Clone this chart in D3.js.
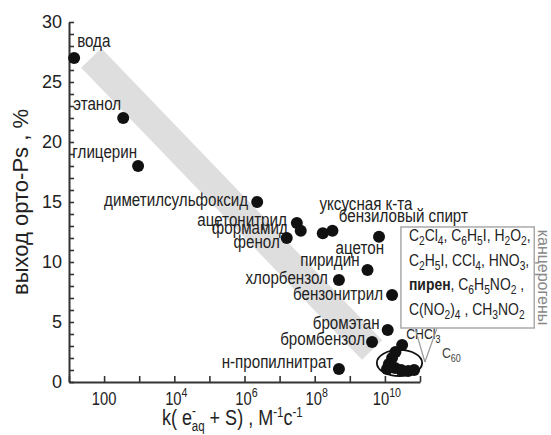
<!DOCTYPE html>
<html>
<head>
<meta charset="utf-8">
<script src="https://cdn.jsdelivr.net/npm/d3@7/dist/d3.min.js"></script>
<style>
  body { margin: 0; background: #fff; }
  svg { display: block; }
</style>
</head>
<body>
<svg id="chart" width="551" height="435"></svg>
<script>
// --- data ---
const solvents = [
  'вода', 'этанол', 'глицерин', 'диметилсульфоксид', 'ацетонитрил', 'формамид',
  'фенол', 'бензиловый спирт', 'уксусная к-та', 'ацетон', 'пиридин', 'хлорбензол',
  'бензонитрил', 'бромэтан', 'бромбензол', 'н-пропилнитрат', 'CHCl3'
];
const rateConst = [
  1.4e1, 3.5e2, 9.3e2, 2.3e6, 3.1e7, 4.0e7,
  1.6e7, 1.7e8, 3.2e8, 6.8e9, 3.2e9, 4.9e8,
  1.6e10, 1.2e10, 4.3e9, 4.9e8, 3.1e10
];
const psYield = [
  27.0, 22.0, 18.0, 15.0, 13.25, 12.6,
  12.0, 12.4, 12.6, 12.1, 9.33, 8.5,
  7.25, 4.33, 3.33, 1.08, 3.08
];

// carcinogen cluster inside the ellipse
const clusterRate = [2.0e10, 1.6e10, 1.3e10, 1.15e10, 1.95e10, 2.9e10, 4.6e10, 6.8e10];
const clusterYield = [2.5, 2.0, 1.5, 1.08, 1.17, 1.0, 0.92, 1.0];

const xTickValues = [1e1, 1e2, 1e3, 1e4, 1e5, 1e6, 1e7, 1e8, 1e9, 1e10, 1e11];
const xTickLabels = [[1e2, '100', ''], [1e4, '10', '4'], [1e6, '10', '6'], [1e8, '10', '8'], [1e10, '10', '10']];
const yTickValues = d3.range(0, 31, 1);

// trend band and annotations (data coordinates)
const bandEnds = [[4.3e1, 27.0], [4.3e9, 2.67]];
const ellipseBox = [[5.9e9, 0.5], [1.15e11, 2.67]];
const calloutBox = [[2.86e10, 12.92], [1.8e14, 4.5]];
const calloutTip = [1.38e11, 1.67];
const calloutBase = [[7.2e10, 4.5], [3.06e11, 4.5]];

const boxLines = [
  [['C', ''], ['2', 's'], ['Cl', ''], ['4', 's'], [', C', ''], ['6', 's'], ['H', ''], ['5', 's'], ['I, H', ''], ['2', 's'], ['O', ''], ['2', 's'], [',', '']],
  [['C', ''], ['2', 's'], ['H', ''], ['5', 's'], ['I, CCl', ''], ['4', 's'], [', HNO', ''], ['3', 's'], [',', '']],
  [['пирен', 'b'], [', C', ''], ['6', 's'], ['H', ''], ['5', 's'], ['NO', ''], ['2', 's'], [' ,', '']],
  [['C(NO', ''], ['2', 's'], [')', ''], ['4', 's'], [' , CH', ''], ['3', 's'], ['NO', ''], ['2', 's']]
];

// label placement relative to each point: [dx, dy, anchor]
const labelLayout = {
  'вода': [3, -11, 'start'],
  'этанол': [-2, -8, 'end'],
  'глицерин': [-1, -8, 'end'],
  'диметилсульфоксид': [-9, 4, 'end'],
  'ацетонитрил': [-10, 3, 'end'],
  'формамид': [-13, 3, 'end'],
  'фенол': [-7, 10, 'end'],
  'бензиловый спирт': [16, -11, 'start'],
  'уксусная к-та': [-13, -21, 'start'],
  'ацетон': [5, 17, 'end'],
  'пиридин': [-8, -4, 'end'],
  'хлорбензол': [-11, 4, 'end'],
  'бензонитрил': [-9, 5, 'end'],
  'бромэтан': [-8, -1, 'end'],
  'бромбензол': [-7, 3, 'end'],
  'н-пропилнитрат': [-6, -1, 'end'],
  'CHCl3': [4, -6, 'start']
};

const SANS = "'Liberation Sans', Arial, sans-serif";
const INK = '#222';
const SQUEEZE = 0.82; // the figure uses a condensed face

const plot = { left: 69, right: 420, top: 22, bottom: 382 };

const svg = d3.select('#chart');

const x = d3.scaleLog().domain([1e1, 1e11]).range([plot.left, plot.right]);
const y = d3.scaleLinear().domain([0, 30]).range([plot.bottom, plot.top]);

// condensed text helper
function narrowText(parent, px, py, size, anchor) {
  return parent.append('text')
    .attr('transform', `translate(${px},${py}) scale(${SQUEEZE},1)`)
    .attr('text-anchor', anchor || 'start')
    .style('font-family', SANS)
    .style('font-size', `${size}px`)
    .attr('fill', INK);
}

// grey trend band
svg.append('line')
  .attr('x1', x(bandEnds[0][0])).attr('y1', y(bandEnds[0][1]))
  .attr('x2', x(bandEnds[1][0])).attr('y2', y(bandEnds[1][1]))
  .attr('stroke', '#dedede')
  .attr('stroke-width', 28)
  .attr('stroke-linecap', 'butt');

// axes
const xAxis = d3.axisBottom(x)
  .tickValues(xTickValues)
  .tickSizeInner(-6)
  .tickSizeOuter(0)
  .tickFormat(() => '');

const yAxis = d3.axisLeft(y)
  .tickValues(yTickValues)
  .tickSizeInner(-5)
  .tickSizeOuter(0)
  .tickPadding(7)
  .tickFormat((d) => (d % 5 === 0 ? d : ''));

const gx = svg.append('g')
  .attr('transform', `translate(0,${plot.bottom})`)
  .call(xAxis);

const gy = svg.append('g')
  .attr('transform', `translate(${plot.left},0)`)
  .call(yAxis);

[gx, gy].forEach((g) => {
  g.select('.domain').attr('stroke', '#333').attr('stroke-width', 2);
  g.selectAll('.tick line').attr('stroke', '#333').attr('stroke-width', 1.6);
});

gy.selectAll('.tick text')
  .style('font-family', SANS)
  .style('font-size', '18px')
  .attr('fill', INK);

// x tick labels with superscript powers
const xl = svg.append('g');
xTickLabels.forEach(([v, base, pow]) => {
  const t = narrowText(xl, x(v) + (pow ? 2 : 0), 405, 18, 'middle').text(base);
  if (pow) {
    t.append('tspan')
      .attr('dy', -8)
      .style('font-size', '13px')
      .text(pow);
  }
});

// axis titles
const xTitle = narrowText(svg, 162, 425, 22, 'start');
xTitle.append('tspan').text('k( e');
xTitle.append('tspan').attr('dy', -9).style('font-size', '14px').text('-');
xTitle.append('tspan').attr('dx', -5).attr('dy', 15).style('font-size', '14px').text('aq');
xTitle.append('tspan').attr('dy', -6).text(' + S) ,  M');
xTitle.append('tspan').attr('dy', -8).style('font-size', '14px').text('-1');
xTitle.append('tspan').attr('dy', 8).text('c');
xTitle.append('tspan').attr('dy', -8).style('font-size', '14px').text('-1');

svg.append('text')
  .attr('transform', 'translate(28,202) rotate(-90)')
  .attr('text-anchor', 'middle')
  .style('font-family', SANS)
  .style('font-size', '22px')
  .attr('fill', INK)
  .text('выход орто-Ps ,  %');

// points
const points = solvents.map((name, i) => ({ name, k: rateConst[i], v: psYield[i] }));
const cluster = clusterRate.map((k, i) => ({ k, v: clusterYield[i] }));

// point labels (under the dots)
const lg = svg.append('g');
points.forEach((d) => {
  const [dx, dy, anchor] = labelLayout[d.name];
  if (d.name === 'CHCl3') {
    const t = narrowText(lg, x(d.k) + dx, y(d.v) + dy, 15, anchor).text('CHCl');
    t.append('tspan').attr('dy', 4).style('font-size', '11px').text('3');
  } else {
    narrowText(lg, x(d.k) + dx, y(d.v) + dy, 18.5, anchor).text(d.name);
  }
});

svg.append('g')
  .selectAll('circle')
  .data(points.concat(cluster))
  .join('circle')
  .attr('cx', (d) => x(d.k))
  .attr('cy', (d) => y(d.v))
  .attr('r', 6)
  .attr('fill', '#111');

// ellipse around the carcinogen cluster
const ex0 = x(ellipseBox[0][0]), ex1 = x(ellipseBox[1][0]);
const ey0 = y(ellipseBox[0][1]), ey1 = y(ellipseBox[1][1]);
svg.append('ellipse')
  .attr('cx', (ex0 + ex1) / 2)
  .attr('cy', (ey0 + ey1) / 2)
  .attr('rx', (ex1 - ex0) / 2)
  .attr('ry', (ey0 - ey1) / 2)
  .attr('fill', 'none')
  .attr('stroke', '#111')
  .attr('stroke-width', 1.8);

// callout box
const bx0 = x(calloutBox[0][0]), bx1 = x(calloutBox[1][0]);
const by0 = y(calloutBox[0][1]), by1 = y(calloutBox[1][1]);

calloutBase.forEach(([k, v]) => {
  svg.append('line')
    .attr('x1', x(k)).attr('y1', y(v))
    .attr('x2', x(calloutTip[0])).attr('y2', y(calloutTip[1]))
    .attr('stroke', '#999')
    .attr('stroke-width', 1.2);
});

svg.append('rect')
  .attr('x', bx0).attr('y', by0)
  .attr('width', bx1 - bx0).attr('height', by1 - by0)
  .attr('fill', '#fff')
  .attr('stroke', '#aaa')
  .attr('stroke-width', 1.5);

boxLines.forEach((segs, i) => {
  const t = narrowText(svg, bx0 + 8, by0 + 14 + i * 24.6, 17, 'start');
  let shifted = false;
  segs.forEach(([s, kind]) => {
    const ts = t.append('tspan').text(s);
    if (kind === 's') {
      ts.attr('dy', shifted ? 0 : 4).style('font-size', '12.5px');
      shifted = true;
    } else {
      if (shifted) ts.attr('dy', -4);
      shifted = false;
      if (kind === 'b') ts.style('font-weight', 'bold');
    }
  });
});

// C60 label next to the callout tip
const c60 = narrowText(svg, x(calloutTip[0]) + 17, y(calloutTip[1]) - 4, 15, 'start')
  .attr('fill', '#444')
  .text('C');
c60.append('tspan').attr('dy', 4).style('font-size', '11px').text('60');

// vertical caption
svg.append('text')
  .attr('transform', `translate(${bx1 + 4},${(by0 + by1) / 2}) rotate(90)`)
  .attr('text-anchor', 'middle')
  .style('font-family', SANS)
  .style('font-size', '16px')
  .attr('fill', '#888')
  .text('канцерогены');
</script>
</body>
</html>
